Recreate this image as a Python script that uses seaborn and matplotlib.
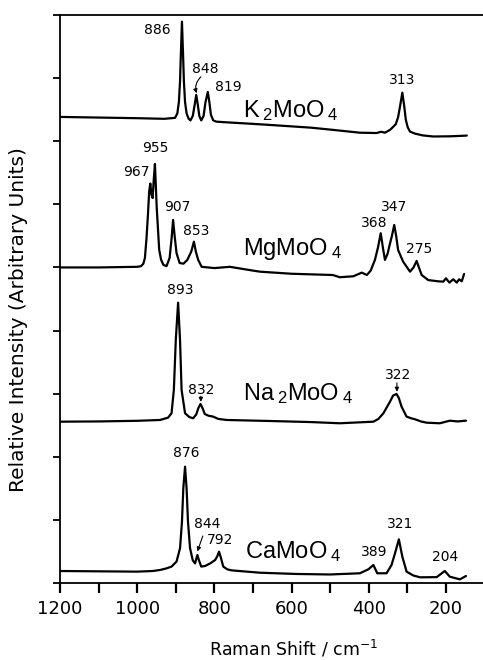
import numpy as np
import pandas as pd
import matplotlib
matplotlib.use("Agg")
import matplotlib.pyplot as plt
import seaborn as sns

# ---------------- data (Raman shift in cm^-1, relative intensity) ----------------
compounds = ["K$\\,_2$MoO$\\,_4$", "MgMoO$\\,_4$", "Na$\\,_2$MoO$\\,_4$", "CaMoO$\\,_4$"]

k_shift = [1200, 1100, 1000, 930, 902, 896, 892, 889, 887, 884, 881, 879, 876, 872,
           867, 862, 856, 851, 847, 843, 839, 834, 828, 823, 817, 813, 809, 803, 795,
           770, 700, 656, 550, 493, 423, 380, 368, 358, 345, 338, 330, 324, 319, 313,
           308, 304, 299, 293, 280, 260, 233, 190, 160, 146]
k_int = [0.385, 0.375, 0.365, 0.355, 0.37, 0.44, 0.62, 0.95, 1.35, 1.895, 1.35, 0.95,
         0.62, 0.44, 0.36, 0.33, 0.40, 0.58, 0.734, 0.58, 0.40, 0.33, 0.40, 0.62,
         0.781, 0.62, 0.42, 0.33, 0.31, 0.30, 0.275, 0.258, 0.215, 0.18, 0.135, 0.13,
         0.15, 0.135, 0.18, 0.22, 0.27, 0.38, 0.55, 0.77, 0.55, 0.34, 0.22, 0.152,
         0.12, 0.092, 0.075, 0.078, 0.085, 0.09]

mg_shift = [1200, 1100, 1000, 990, 984, 980, 976, 972, 969, 966, 963, 960, 957, 954,
            949.5, 943, 938, 932, 924, 916, 911, 907, 903, 898, 890, 880, 870, 860,
            853, 848, 842, 833, 800, 760, 700, 682, 600, 493, 475, 440, 418, 405, 395,
            384, 376, 369, 363, 358, 351, 347, 340, 334, 329, 324, 311, 293, 284, 276,
            270, 263, 246, 220, 207, 200, 191, 181, 172, 166, 159, 153]
mg_int = [0.30, 0.30, 0.31, 0.32, 0.36, 0.45, 0.75, 1.15, 1.50, 1.63, 1.45, 1.40, 1.70,
          1.94, 1.26, 0.58, 0.42, 0.34, 0.32, 0.45, 0.75, 1.053, 0.80, 0.525, 0.37,
          0.36, 0.42, 0.55, 0.709, 0.55, 0.42, 0.31, 0.29, 0.31, 0.25, 0.233, 0.20,
          0.18, 0.145, 0.16, 0.218, 0.18, 0.25, 0.42, 0.62, 0.842, 0.60, 0.42, 0.52,
          0.63, 0.80, 0.973, 0.80, 0.577, 0.392, 0.233, 0.30, 0.403, 0.30, 0.181, 0.10,
          0.08, 0.075, 0.128, 0.06, 0.112, 0.06, 0.112, 0.08, 0.197]

na_shift = [1200, 1100, 1000, 941, 920, 911, 905, 900, 894, 889, 885, 876, 865, 855,
            847, 841, 836, 830, 825, 815, 803, 790, 768, 656, 550, 475, 388, 375, 362,
            345, 337, 328, 322, 315, 302, 290, 280, 265, 250, 216, 190, 170, 148]
na_int = [0.156, 0.16, 0.17, 0.183, 0.22, 0.29, 0.66, 1.45, 2.042, 1.45, 0.66, 0.29,
          0.23, 0.21, 0.27, 0.38, 0.437, 0.36, 0.278, 0.25, 0.236, 0.20, 0.183, 0.167,
          0.15, 0.131, 0.156, 0.20, 0.29, 0.473, 0.57, 0.595, 0.53, 0.394, 0.236, 0.21,
          0.194, 0.16, 0.14, 0.131, 0.172, 0.16, 0.172]

ca_shift = [1200, 1100, 1000, 960, 941, 925, 911, 898, 889, 884, 880.5, 876, 872,
            868.4, 863, 856, 850, 847, 844, 840, 834, 824, 811, 798, 792, 788, 784,
            777, 766, 755, 682, 587, 500, 423, 401, 388, 378, 354, 341, 332, 322, 313,
            302, 285, 267, 224, 203, 190, 164, 148]
ca_int = [0.19, 0.185, 0.18, 0.19, 0.206, 0.23, 0.26, 0.34, 0.55, 0.97, 1.50, 1.843,
          1.50, 0.97, 0.55, 0.36, 0.31, 0.38, 0.444, 0.36, 0.26, 0.27, 0.31, 0.364,
          0.43, 0.496, 0.42, 0.26, 0.215, 0.20, 0.163, 0.143, 0.135, 0.154, 0.217,
          0.285, 0.154, 0.154, 0.285, 0.47, 0.692, 0.417, 0.18, 0.12, 0.09, 0.093,
          0.19, 0.10, 0.058, 0.111]

# peak labels (text shown above peaks)
k_peaks = ["886", "848", "819", "313"]
mg_peaks = ["955", "967", "907", "853", "368", "347", "275"]
na_peaks = ["893", "832", "322"]
ca_peaks = ["876", "844", "792", "389", "321", "204"]

# ---------------- layout (positions, not data) ----------------
offsets = [7.0, 4.7, 2.4, 0.0]
compound_pos = [(725, 7.38), (725, 5.20), (725, 2.90), (721, 0.39)]
k_peak_pos = [(949, 8.76), (824, 8.15), (764, 7.865), (314, 7.97)]
mg_peak_pos = [(953, 6.89), (1003, 6.505), (897, 5.96), (848, 5.58), (387, 5.70),
               (334, 5.96), (270, 5.29)]
na_peak_pos = [(888, 4.64), (834, 3.06), (323, 3.30)]
ca_peak_pos = [(872, 2.055), (817.5, 0.935), (785.5, 0.68), (387, 0.486), (319, 0.935),
               (203, 0.417)]

frames = []
for name, xs, ys, off in zip(compounds, [k_shift, mg_shift, na_shift, ca_shift],
                             [k_int, mg_int, na_int, ca_int], offsets):
    frames.append(pd.DataFrame({"shift": xs, "y": np.array(ys) + off, "compound": name}))
df = pd.concat(frames, ignore_index=True)

sns.set_theme(style="ticks")
plt.rcParams["font.family"] = ["DejaVu Sans"]
plt.rcParams["mathtext.default"] = "regular"

fig = plt.figure(figsize=(4.83, 6.6), dpi=100)
ax = fig.add_axes([60 / 483, 1 - 583 / 660, 423 / 483, 568 / 660])

sns.lineplot(data=df, x="shift", y="y", units="compound", estimator=None,
             color="black", linewidth=1.6, ax=ax, legend=False)

ax.set_xlim(1200, 104)
ax.set_ylim(0, 9)
ax.set_xticks([1200, 1000, 800, 600, 400, 200])
ax.set_xticks([1100, 900, 700, 500, 300], minor=True)
ax.set_yticks(range(10))
ax.set_yticklabels([])
ax.tick_params(axis="x", which="both", direction="out", length=7, width=1.6,
               labelsize=13, pad=5, color="black", labelcolor="black")
ax.tick_params(axis="y", direction="out", length=5, width=1.3, color="black")
ax.spines["right"].set_visible(False)
for s in ["left", "bottom", "top"]:
    ax.spines[s].set_linewidth(1.3)
    ax.spines[s].set_color("black")

ax.set_xlabel("Raman Shift / cm$^{-1}$", fontsize=12.5, color="black")
ax.xaxis.set_label_coords((293 - 60) / 423, -0.097)
ax.xaxis.label.set_va("top")
ax.set_ylabel("Relative Intensity (Arbitrary Units)", fontsize=14.5, color="black")
ax.yaxis.set_label_coords(-0.076, 0.463)

for name, (cx, cy) in zip(compounds, compound_pos):
    ax.text(cx, cy, name, ha="left", va="baseline", fontsize=17,
            family=["Liberation Sans", "DejaVu Sans"], color="black")

for labels, poss in [(k_peaks, k_peak_pos), (mg_peaks, mg_peak_pos),
                     (na_peaks, na_peak_pos), (ca_peaks, ca_peak_pos)]:
    for lab, (px, py) in zip(labels, poss):
        ax.text(px, py, lab, ha="center", va="center", fontsize=10, color="black")

# small pointer arrows
arrow_kw = dict(arrowstyle="-|>", lw=0.8, color="black", mutation_scale=6,
                shrinkA=0, shrinkB=0)
ax.annotate("", xy=(846, 7.76), xytext=(835, 8.02),
            arrowprops=dict(connectionstyle="arc3,rad=0.3", **arrow_kw))
ax.annotate("", xy=(835, 2.87), xytext=(835, 2.96), arrowprops=arrow_kw)
ax.annotate("", xy=(327, 3.03), xytext=(327, 3.17), arrowprops=arrow_kw)
ax.annotate("", xy=(844, 0.50), xytext=(830, 0.745), arrowprops=arrow_kw)

fig.savefig("out.png", dpi=100)
